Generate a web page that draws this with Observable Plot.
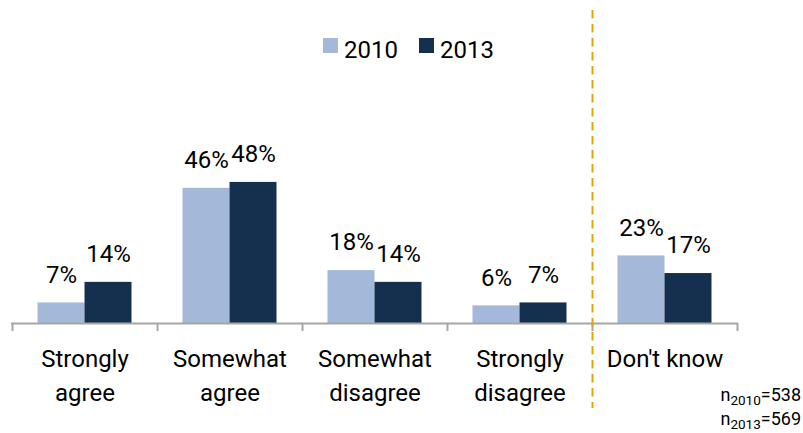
<!DOCTYPE html>
<html>
<head>
<meta charset="utf-8">
<script src="https://cdn.jsdelivr.net/npm/d3@7"></script>
<script src="https://cdn.jsdelivr.net/npm/@observablehq/plot@0.6"></script>
<style>
  body { margin: 0; background: #fff; font-family: Roboto, sans-serif; color: #000; }
  #wrap { position: relative; width: 803px; height: 433px; }
  #legend { position: absolute; left: 323px; top: 38px; display: flex; align-items: flex-start; font-size: 24px; line-height: 24px; }
  #legend .item { display: flex; align-items: flex-start; margin-right: 21px; }
  #legend .sw { width: 15px; height: 15px; margin-right: 6px; }
  #note { position: absolute; right: 2px; top: 383px; font-size: 18px; line-height: 24px; text-align: left; }
  #note sub { font-size: 13.5px; vertical-align: -4px; line-height: 0; }
</style>
</head>
<body>
<div id="wrap"></div>
<script>
const categories = ["Strongly agree", "Somewhat agree", "Somewhat disagree", "Strongly disagree", "Don't know"];
const tickLabels = ["Strongly\nagree", "Somewhat\nagree", "Somewhat\ndisagree", "Strongly\ndisagree", "Don't know"];
const years = ["2010", "2013"];
const values2010 = [7, 46, 18, 6, 23];
const values2013 = [14, 48, 14, 7, 17];
const sampleSizes = [538, 569];
const colors = ["#A4B8D9", "#15304F"];

const series = [values2010, values2013];
const rows = categories.flatMap((c, i) => years.map((yr, j) => ({category: c, year: yr, value: series[j][i]})));
const r2010 = rows.filter(d => d.year === years[0]);
const r2013 = rows.filter(d => d.year === years[1]);

const axisGray = "#A6A6A6";

const chart = Plot.plot({
  width: 803,
  height: 433,
  marginTop: 10,
  marginBottom: 110,
  marginLeft: 11,
  marginRight: 65,
  x: {domain: categories, padding: 0},
  y: {domain: [0, 106.5], axis: null},
  style: {fontFamily: "Roboto, sans-serif", fontSize: "24px", color: "#000", background: "transparent"},
  marks: [
    Plot.barY(r2010, {x: "category", y: "value", fill: colors[0], insetLeft: 25.5, insetRight: 72.5}),
    Plot.barY(r2013, {x: "category", y: "value", fill: colors[1], insetLeft: 72.5, insetRight: 25.5}),
    Plot.text(r2010, {x: "category", y: "value", text: d => d.value + "%", dx: -23.5, dy: -28, fontSize: 24, fill: "#000"}),
    Plot.text(r2013, {x: "category", y: "value", text: d => d.value + "%", dx: 23.5, dy: -28, fontSize: 24, fill: "#000"}),
    Plot.ruleY([0], {stroke: axisGray, strokeWidth: 2}),
    Plot.axisX(categories, {tickSize: 8, dx: -72.5, stroke: axisGray, strokeWidth: 2, fill: "none", label: null}),
    Plot.axisX([categories[categories.length - 1]], {tickSize: 8, dx: 72.5, stroke: axisGray, strokeWidth: 2, fill: "none", label: null}),
    Plot.axisX({tickSize: 0, tickPadding: 19, fontSize: 24, lineHeight: 1.42, tickFormat: d => tickLabels[categories.indexOf(d)], label: null}),
    Plot.ruleX([categories[categories.length - 1]], {dx: -72.5, stroke: "#E3A600", strokeWidth: 2, strokeDasharray: "8.5,5.5", insetBottom: -85})
  ]
});

const wrap = document.getElementById("wrap");
wrap.appendChild(chart);

const legend = document.createElement("div");
legend.id = "legend";
years.forEach((yr, j) => {
  const item = document.createElement("div");
  item.className = "item";
  const sw = document.createElement("div");
  sw.className = "sw";
  sw.style.background = colors[j];
  const t = document.createElement("span");
  t.textContent = yr;
  item.appendChild(sw);
  item.appendChild(t);
  legend.appendChild(item);
});
wrap.appendChild(legend);

const note = document.createElement("div");
note.id = "note";
note.innerHTML = years.map((yr, j) => `n<sub>${yr}</sub>=${sampleSizes[j]}`).join("<br>");
wrap.appendChild(note);
</script>
</body>
</html>
